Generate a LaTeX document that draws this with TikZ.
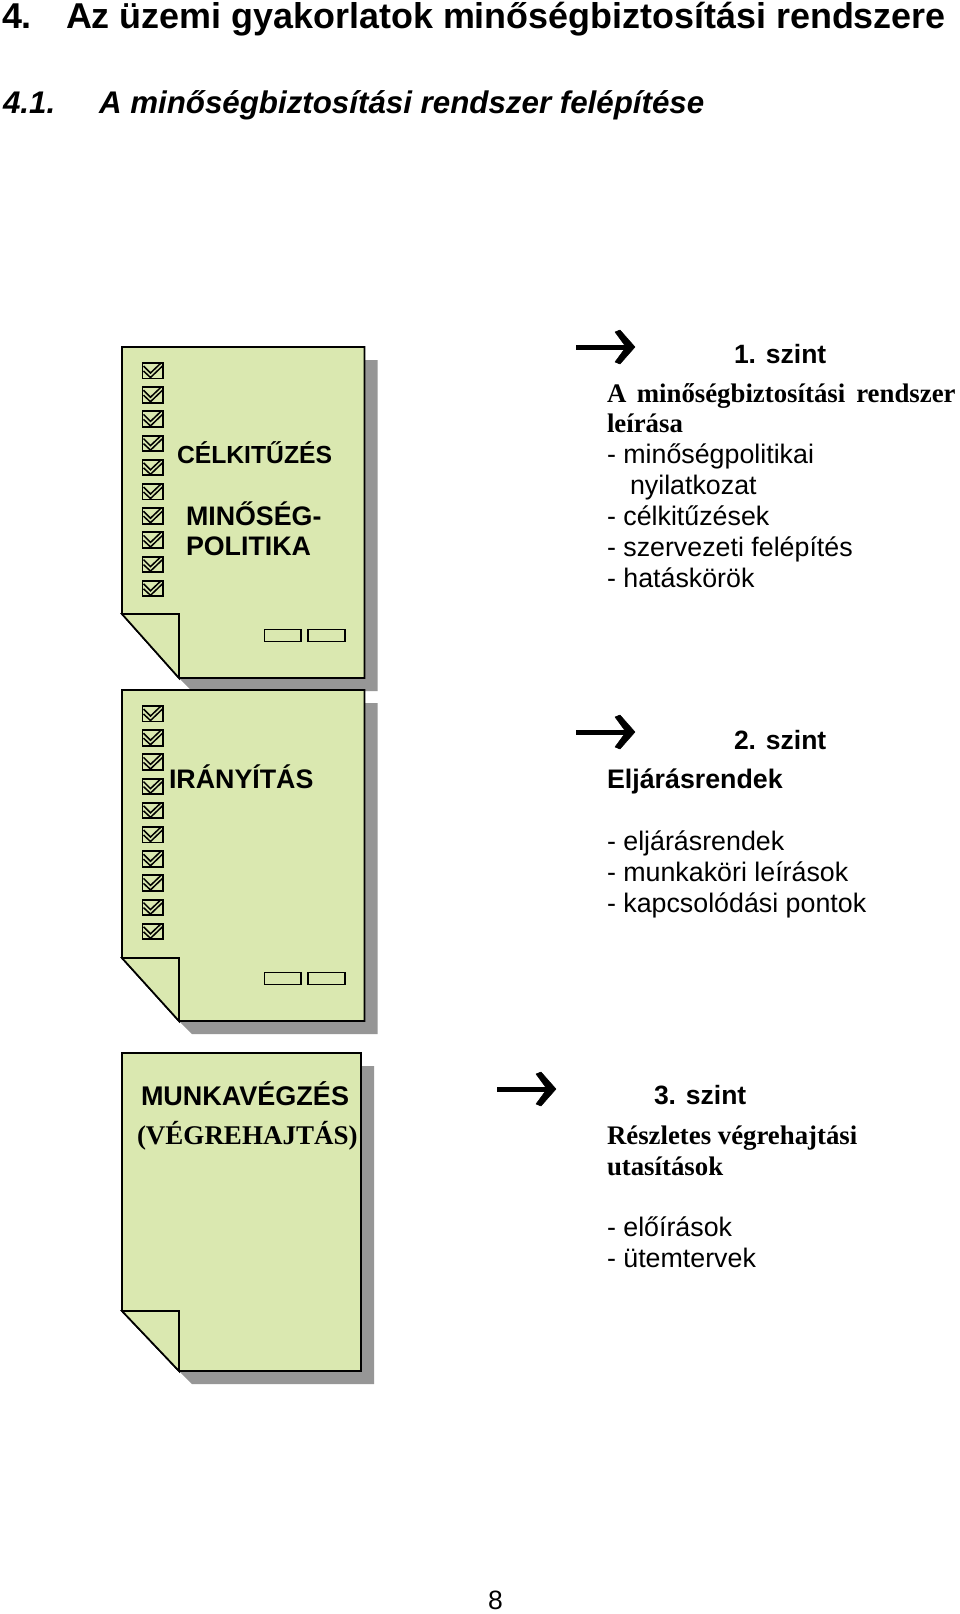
\documentclass[tikz,border=0pt]{standalone}
\usepackage{fontspec}
\setmainfont{Liberation Sans}
\newfontfamily\serifbf[Ligatures=TeX]{Liberation Serif}
\definecolor{paper}{HTML}{DAE8B0}
\definecolor{shade}{HTML}{969696}
\newcommand{\fs}[1]{\fontsize{#1}{#1}\selectfont}
\tikzset{
  txt/.style={anchor=base west,inner sep=0pt,outer sep=0pt,text=black},
  sheet/.style={draw=black,line width=1.7pt,fill=paper,line join=miter},
  shadow/.style={fill=shade,draw=none},
  foldline/.style={draw=black,line width=1.7pt,fill=paper,line join=miter},
  tick/.style={draw=black,line width=1.9pt,fill=none,line join=miter},
  slot/.style={draw=black,line width=1.3pt,fill=paper},
  arrowline/.style={draw=black,line width=5pt},
  arrowhead/.style={fill=black,draw=black,line width=0.5pt,line join=round},
  lst/.style={txt,font=\fs{26.8}},
  blk/.style={txt,font=\fs{26.8}\bfseries},
  lvl/.style={txt,font=\fs{26.5}\bfseries},
  srf/.style={txt,font=\fs{26.8}\serifbf\bfseries},
}
\newcommand{\doc}[5]{% left top right bottom foldy
  \fill[shadow] (#1+57,#4) -- (#1+57+13,#4+13) -- (#3+13,#4+13) -- (#3+13,#2+13) -- (#3,#2+13) -- (#3,#4) -- cycle;
  \draw[sheet] (#1,#2) -- (#3,#2) -- (#3,#4) -- (#1+57,#4) -- (#1,#5) -- cycle;
  \draw[foldline] (#1,#5) -- (#1+57,#5) -- (#1+57,#4) -- cycle;
}
\newcommand{\chk}[2]{% x y of box top-left
  \draw[tick] (#1,#2) rectangle ++(20.5,15.5);
  \draw[tick,line width=1.5pt] (#1+1,#2+8) -- (#1+8,#2+14.5) -- (#1+20,#2+3);
  \draw[tick,line width=1.5pt] (#1+1,#2+3) -- (#1+8,#2+10) -- (#1+18.5,#2);
}
\newcommand{\chks}[2]{\foreach \i in {0,...,9}{\chk{#1.5}{#2+24.2*\i}}}
\newcommand{\arr}[2]{% tail x, y
  \draw[arrowline] (#1,#2) -- (#1+50,#2);
  \fill[arrowhead] (#1+59,#2) -- (#1+44,#2-17) -- (#1+39,#2-15) -- (#1+50,#2) -- (#1+39,#2+15) -- (#1+44,#2+17) -- cycle;
}
\begin{document}
\begin{tikzpicture}[x=1pt,y=-1pt]
\useasboundingbox (0,0) rectangle (960,1614);
\fill[white] (0,0) rectangle (960,1614);
\node[txt,font=\fs{35.9}\bfseries] (t1) at (2,28) {4.};
\node[txt,font=\fs{35.9}\bfseries] (t2) at (66,28) {Az üzemi gyakorlatok minőségbiztosítási rendszere};
\node[txt,font=\fs{31.3}\bfseries\itshape] (t3) at (3,113) {4.1.};
\node[txt,font=\fs{31.3}\bfseries\itshape] (t4) at (99,113) {A minőségbiztosítási rendszer felépítése};
\doc{122}{347}{364.5}{678}{614}
\chks{142}{363}
\draw[slot] (264.5,629.5) rectangle (301,641.5);
\draw[slot] (308,629.5) rectangle (345,641.5);
\node[blk,font=\fs{24.7}\bfseries] (c1) at (177,463.5) {CÉLKITŰZÉS};
\node[blk] (c2) at (186,525) {MINŐSÉG-};
\node[blk] (c3) at (186,555) {POLITIKA};
\arr{576}{347}
\node[lvl] (a1) at (734,363) {1. szint};
\node[srf] (a2) at (607,402) {A\hspace{10.5pt}minőségbiztosítási\hspace{11pt}rendszer};
\node[srf] (a3) at (607,432) {leírása};
\node[lst] (a4) at (607,463) {- minőségpolitikai};
\node[lst] (a5) at (630,494) {nyilatkozat};
\node[lst] (a6) at (607,525) {- célkitűzések};
\node[lst] (a7) at (607,556) {- szervezeti felépítés};
\node[lst] (a8) at (607,587) {- hatáskörök};
\doc{122}{690}{364.5}{1021}{958}
\chks{142}{706}
\draw[slot] (264.5,972.5) rectangle (301,984.5);
\draw[slot] (308,972.5) rectangle (345,984.5);
\node[blk] (d1) at (169,788) {IRÁNYÍTÁS};
\arr{576}{732}
\node[lvl] (b1) at (734,749) {2. szint};
\node[blk] (b2) at (607,788) {Eljárásrendek};
\node[lst] (b3) at (607,850) {- eljárásrendek};
\node[lst] (b4) at (607,881) {- munkaköri leírások};
\node[lst] (b5) at (607,912) {- kapcsolódási pontok};
\doc{122}{1053}{361}{1371}{1311}
\node[blk,font=\fs{27}\bfseries] (e1) at (141,1105) {MUNKAVÉGZÉS};
\node[srf,font=\fs{27}\serifbf\bfseries] (e2) at (137,1144.5) {(VÉGREHAJTÁS)};
\arr{497}{1089}
\node[lvl] (f1) at (654,1104.5) {3. szint};
\node[srf] (f2) at (607,1144) {Részletes végrehajtási};
\node[srf] (f3) at (607,1175) {utasítások};
\node[lst] (f4) at (607,1236) {- előírások};
\node[lst] (f5) at (607,1267) {- ütemtervek};
\node[txt,font=\fs{26.5}] (pg) at (488,1609) {8};
\end{tikzpicture}
\end{document}
